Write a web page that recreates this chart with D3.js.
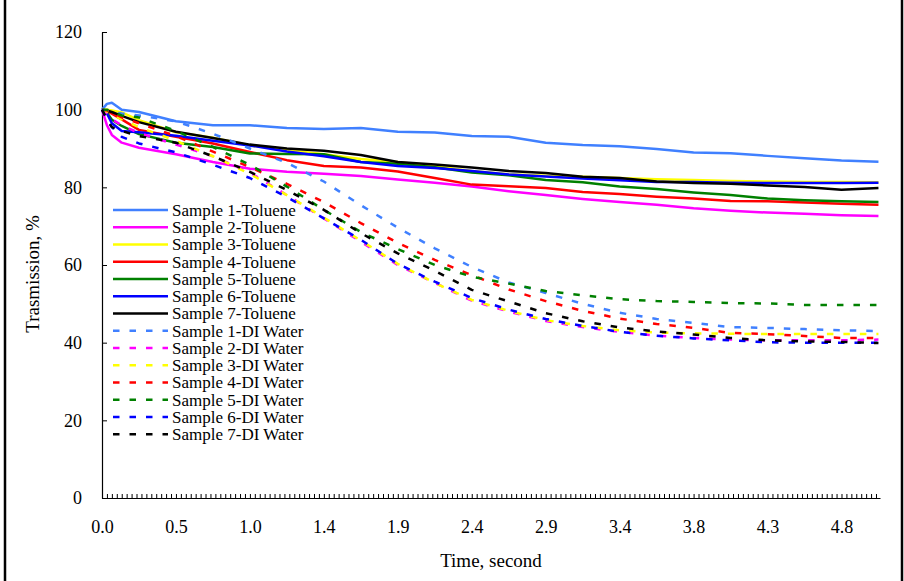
<html>
<head>
<script src="https://cdn.jsdelivr.net/npm/d3@7"></script>
<style>
  body { margin: 0; background: #fff; }
  text { font-family: "Liberation Serif", "Times New Roman", serif; fill: #000; }
</style>
</head>
<body>
<div id="canvas"></div>
<script>

var width = 904;
var height = 581;

// time, second
var time = [0, 0.032, 0.064, 0.128, 0.24, 0.48, 0.72, 0.96, 1.2, 1.44, 1.68, 1.92, 2.16, 2.4, 2.64, 2.88, 3.12, 3.36, 3.6, 3.84, 4.08, 4.32, 4.56, 4.8, 5.04];

var toluene1 = [100, 101.5, 101.8, 100, 99.4, 97, 96, 96, 95.3, 95, 95.3, 94.3, 94.1, 93.2, 93, 91.5, 90.9, 90.6, 89.9, 89, 88.8, 88.1, 87.5, 86.9, 86.6];
var toluene2 = [100, 96, 93.5, 91.5, 90.2, 88.5, 86.5, 84.8, 84, 83.5, 82.9, 82, 81.2, 80.2, 79, 78, 77, 76.2, 75.5, 74.6, 74, 73.5, 73.2, 72.8, 72.6];
var toluene3 = [100, 100, 99.8, 99.3, 97.3, 94.2, 92.8, 90.8, 89.6, 88.5, 87.3, 86.5, 85.4, 84.2, 83.4, 83, 82.7, 82.4, 82.1, 81.9, 81.6, 81.5, 81.4, 81.4, 81.3];
var toluene4 = [100, 99.6, 99, 97.5, 94.8, 93, 91.3, 89.1, 87, 85.5, 85.1, 84.1, 82.4, 80.7, 80.3, 79.8, 78.8, 78.3, 77.6, 77.1, 76.5, 76.4, 76.1, 75.8, 75.5];
var toluene5 = [100, 99.2, 97.4, 95.8, 93.7, 91.5, 90.4, 88.7, 88.6, 88.5, 86.5, 86.1, 85.2, 83.8, 83.1, 81.9, 81.3, 80.2, 79.6, 78.7, 78, 77.1, 76.7, 76.4, 76.2];
var toluene6 = [100, 99, 96.5, 94.5, 94.2, 93.3, 92, 90.8, 89.2, 88, 86.5, 85.5, 85, 84.2, 83.3, 82.8, 82.3, 81.8, 81.4, 81.4, 81.2, 81.1, 81.1, 81.1, 81.2];
var toluene7 = [100, 99.8, 99.4, 98.4, 96.8, 94.3, 92.7, 91, 90, 89.4, 88.3, 86.5, 85.9, 85.1, 84.2, 83.7, 82.7, 82.4, 81.5, 81.1, 80.9, 80.5, 80.1, 79.4, 79.8];

var water1 = [100, 99.8, 99.5, 99, 98.5, 97, 93.8, 90, 86.3, 81.5, 75.4, 69.6, 64.3, 59.5, 55.5, 52.8, 50, 47.7, 46.1, 45.1, 44, 43.8, 43.5, 43.2, 43];
var water2 = [100, 99, 97.5, 96, 94, 91, 88, 83.8, 78, 72, 66, 60, 55.4, 50.8, 48, 45.6, 44, 42.8, 41.8, 41.2, 40.8, 40.6, 40.6, 40.6, 40.8];
var water3 = [100, 99.5, 98.8, 97.5, 95.5, 92, 88, 83.5, 78, 72.2, 66.3, 60.3, 55.4, 51, 48.2, 45.8, 44.3, 43.2, 42.6, 42.4, 42.3, 42.2, 42.2, 42.2, 42.2];
var water4 = [100, 99.8, 99.3, 98, 96.5, 93.2, 89.2, 85.2, 80.9, 76.2, 70.8, 65.7, 61.3, 57.4, 53.7, 50.7, 48.2, 46.2, 44.8, 43.8, 42.5, 42.2, 41.7, 41.2, 41.2];
var water5 = [100, 100, 99.5, 98.5, 98, 94.5, 90.4, 85.8, 80.2, 74.2, 68.5, 64.1, 60, 57, 55.2, 53.3, 52.2, 51.2, 50.7, 50.5, 50.2, 50.1, 49.7, 49.7, 49.7];
var water6 = [100, 97.5, 95.5, 93, 91.3, 89, 85.8, 82.4, 77.5, 72, 66.5, 60.3, 55.7, 51.5, 48.5, 46.1, 44.3, 42.8, 41.8, 41.1, 40.6, 40.1, 40, 40, 40];
var water7 = [100, 97.5, 95.5, 94.5, 93.2, 91.5, 88, 84, 79.3, 74.2, 68.2, 63, 58.5, 53.6, 50.6, 47.6, 45.5, 43.9, 42.9, 42.1, 41.2, 40.6, 40.3, 40.2, 39.9];

var names = ["Sample 1-Toluene", "Sample 2-Toluene", "Sample 3-Toluene", "Sample 4-Toluene", "Sample 5-Toluene", "Sample 6-Toluene", "Sample 7-Toluene",
             "Sample 1-DI Water", "Sample 2-DI Water", "Sample 3-DI Water", "Sample 4-DI Water", "Sample 5-DI Water", "Sample 6-DI Water", "Sample 7-DI Water"];
var values = [toluene1, toluene2, toluene3, toluene4, toluene5, toluene6, toluene7,
              water1, water2, water3, water4, water5, water6, water7];
var colors = ["#4080ff", "#ff00ff", "#ffff00", "#ff0000", "#008000", "#0000ff", "#000000"];

var xLabels = [0, 0.48, 0.96, 1.44, 1.92, 2.4, 2.88, 3.36, 3.84, 4.32, 4.8];
var yTicks = [0, 20, 40, 60, 80, 100, 120];
var step = 0.032;

var plotLeft = 102, plotRight = 880, plotTop = 32, plotBottom = 498;

var svg = d3.select("#canvas").append("svg").attr("width", width).attr("height", height);

// chart frame
svg.append("rect")
    .attr("x", 5).attr("y", -10)
    .attr("width", 897).attr("height", height + 20)
    .attr("fill", "none").attr("stroke", "#000").attr("stroke-width", 2.5);

var x = d3.scaleLinear().domain([0, 5.05]).range([plotLeft, plotRight]);
var y = d3.scaleLinear().domain([0, 120]).range([plotBottom, plotTop]);

// y axis
var yAxis = svg.append("g").attr("transform", "translate(" + plotLeft + ",0)")
    .call(d3.axisLeft(y).tickValues(yTicks).tickSize(-5).tickPadding(20).tickSizeOuter(0));
yAxis.selectAll("text").style("font-size", "18px").attr("font-family", null);

// x axis: minor ticks every category
var minor = d3.range(0, 158).map(function(i) { return i * step; });
svg.append("g").attr("transform", "translate(0," + plotBottom + ")")
    .call(d3.axisBottom(x).tickValues(minor).tickSize(-4).tickSizeOuter(0).tickFormat(""));
var xAxis = svg.append("g").attr("transform", "translate(0," + plotBottom + ")")
    .call(d3.axisBottom(x).tickValues(xLabels).tickSize(0).tickPadding(22).tickFormat(d3.format(".1f")));
xAxis.select(".domain").remove();
xAxis.selectAll("text").style("font-size", "18px").attr("font-family", null);
svg.selectAll(".domain").attr("stroke", "#000").attr("stroke-width", 1.2);
svg.selectAll(".tick line").attr("stroke", "#000").attr("stroke-width", 1);

// axis titles
svg.append("text").attr("x", 491).attr("y", 567).attr("text-anchor", "middle")
    .style("font-size", "19px").text("Time, second");
svg.append("text").attr("transform", "translate(39,274) rotate(-90)").attr("text-anchor", "middle")
    .style("font-size", "19px").text("Trasmission, %");

// series
var line = d3.line()
    .x(function(d, i) { return x(time[i]); })
    .y(function(d) { return y(d); });

values.forEach(function(v, k) {
    svg.append("path")
        .attr("d", line(v))
        .attr("fill", "none")
        .attr("stroke", colors[k % 7])
        .attr("stroke-width", 2.5)
        .attr("stroke-linejoin", "round")
        .attr("stroke-dasharray", k < 7 ? null : "6.5,10");
});

// legend
names.forEach(function(n, k) {
    var ly = 210 + k * 17.25;
    svg.append("line")
        .attr("x1", 113).attr("x2", 168).attr("y1", ly).attr("y2", ly)
        .attr("stroke", colors[k % 7]).attr("stroke-width", 2.5)
        .attr("stroke-dasharray", k < 7 ? null : "6.5,10");
    svg.append("text").attr("x", 172).attr("y", ly).attr("dy", "0.35em")
        .style("font-size", "17px").text(n);
});

</script>
</body>
</html>
